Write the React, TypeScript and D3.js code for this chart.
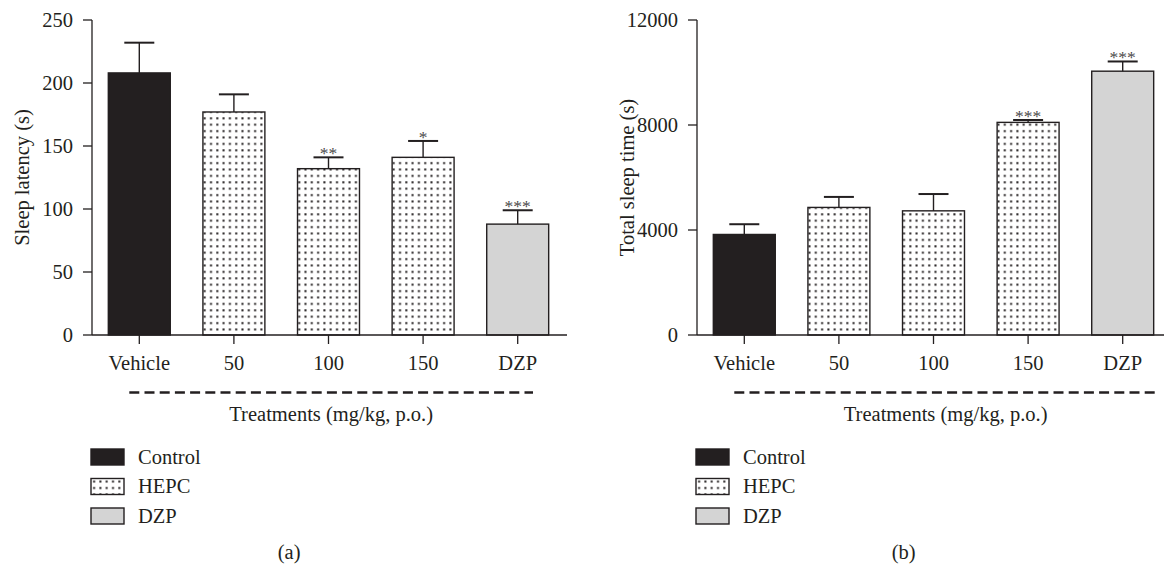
import * as d3 from "d3";

const categories = ["Vehicle", "50", "100", "150", "DZP"];
const groupOf = ["Control", "HEPC", "HEPC", "HEPC", "DZP"];
const legendItems = ["Control", "HEPC", "DZP"];

const latencyMean = [208, 177, 132, 141, 88];
const latencyErr = [24, 14, 9, 13, 11];
const latencySig = ["", "", "**", "*", "***"];
const latencyTicks = [0, 50, 100, 150, 200, 250];

const sleepMean = [3830, 4860, 4730, 8100, 10050];
const sleepErr = [390, 400, 640, 90, 370];
const sleepSig = ["", "", "", "***", "***"];
const sleepTicks = [0, 4000, 8000, 12000];

const INK = "#231f20";
const FONT = "'Liberation Serif', 'Times New Roman', serif";
const FS = 20.5;

const fillFor = (g: string) =>
  g === "Control" ? INK : g === "DZP" ? "#d4d4d4" : "url(#dots)";

type PanelProps = {
  left: number;
  means: number[];
  errs: number[];
  sig: string[];
  ticks: number[];
  max: number;
  yTitle: string;
  tag: string;
  dashEnd: number;
};

const Panel = ({ left, means, errs, sig, ticks, max, yTitle, tag, dashEnd }: PanelProps) => {
  const top = 20;
  const bottom = 335;
  const axisLen = 473;
  const x = d3
    .scaleBand()
    .domain(categories)
    .range([left, left + axisLen])
    .paddingInner(0.345)
    .paddingOuter(0.1725);
  const y = d3.scaleLinear().domain([0, max]).range([bottom, top]);
  const bw = x.bandwidth();
  const cx = (c: string) => (x(c) as number) + bw / 2;
  const dashStart = cx(categories[0]) - 10;
  const mid = (dashStart + dashEnd) / 2;

  return (
    <g fontFamily={FONT} fill={INK}>
      {/* bars */}
      {categories.map((c, i) => (
        <rect
          key={c}
          x={x(c)}
          y={y(means[i])}
          width={bw}
          height={bottom - y(means[i])}
          fill={fillFor(groupOf[i])}
          stroke={INK}
          strokeWidth={1.4}
        />
      ))}
      {/* error bars */}
      {categories.map((c, i) => (
        <g key={c} stroke={INK}>
          <line x1={cx(c)} x2={cx(c)} y1={y(means[i])} y2={y(means[i] + errs[i])} strokeWidth={1.4} />
          <line x1={cx(c) - 15} x2={cx(c) + 15} y1={y(means[i] + errs[i])} y2={y(means[i] + errs[i])} strokeWidth={2} />
        </g>
      ))}
      {/* significance */}
      {categories.map((c, i) =>
        sig[i] ? (
          <text key={c} x={cx(c)} y={y(means[i] + errs[i]) + 2} textAnchor="middle" fontSize={17.5} fill="#4a4a4a">
            {sig[i]}
          </text>
        ) : null
      )}
      {/* y axis */}
      <line x1={left} x2={left} y1={top} y2={bottom} stroke={INK} strokeWidth={1.3} />
      {ticks.map((t) => (
        <g key={t}>
          <line x1={left - 9} x2={left} y1={y(t)} y2={y(t)} stroke={INK} strokeWidth={1.3} />
          <text x={left - 19} y={y(t)} dy="0.35em" textAnchor="end" fontSize={FS}>
            {t}
          </text>
        </g>
      ))}
      <text
        transform={`translate(${left - 70},${(top + bottom) / 2}) rotate(-90)`}
        textAnchor="middle"
        dominantBaseline="central"
        fontSize={FS}
      >
        {yTitle}
      </text>
      {/* x axis */}
      <line x1={left} x2={left + axisLen + 2} y1={bottom} y2={bottom} stroke={INK} strokeWidth={1.3} />
      {categories.map((c) => (
        <g key={c}>
          <line x1={cx(c)} x2={cx(c)} y1={bottom} y2={bottom + 9} stroke={INK} strokeWidth={1.3} />
          <text x={cx(c)} y={370} textAnchor="middle" fontSize={FS}>
            {c}
          </text>
        </g>
      ))}
      <line x1={dashStart} x2={dashEnd} y1={392.5} y2={392.5} stroke={INK} strokeWidth={2.6} strokeDasharray="10,5.2" />
      <text x={mid} y={421} textAnchor="middle" fontSize={FS}>
        Treatments (mg/kg, p.o.)
      </text>
      {/* legend */}
      {legendItems.map((g, i) => (
        <g key={g} transform={`translate(${left - 1},${449 + i * 29.5})`}>
          <rect width={33} height={16} fill={fillFor(g)} stroke={INK} strokeWidth={1.4} />
          <text x={47} y={14.5} fontSize={FS}>
            {g}
          </text>
        </g>
      ))}
      <text x={mid - 42} y={559} textAnchor="middle" fontSize={FS}>
        {tag}
      </text>
    </g>
  );
};

const App = () => (
  <svg width={1164} height={567} style={{ position: "absolute", left: 0, top: 0, background: "#fff" }}>
    <defs>
      <pattern id="dots" width={6.3} height={6.4} patternUnits="userSpaceOnUse">
        <rect width={6.3} height={6.4} fill="#fff" />
        <rect x={2.1} y={2.1} width={2} height={2} fill={INK} />
      </pattern>
    </defs>
    <Panel
      left={92}
      means={latencyMean}
      errs={latencyErr}
      sig={latencySig}
      ticks={latencyTicks}
      max={250}
      yTitle="Sleep latency (s)"
      tag="(a)"
      dashEnd={533}
    />
    <Panel
      left={697}
      means={sleepMean}
      errs={sleepErr}
      sig={sleepSig}
      ticks={sleepTicks}
      max={12000}
      yTitle="Total sleep time (s)"
      tag="(b)"
      dashEnd={1157}
    />
  </svg>
);

export default App;
